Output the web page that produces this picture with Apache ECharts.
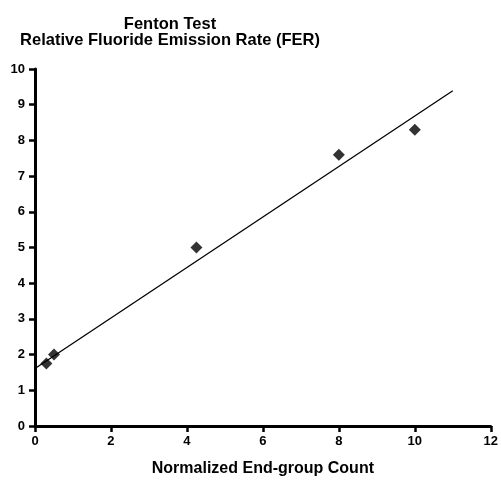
<!DOCTYPE html>
<html><head><meta charset="utf-8">
<script src="https://cdn.jsdelivr.net/npm/echarts@6/dist/echarts.min.js"></script>
<style>html,body{margin:0;padding:0;background:#fff}#c{width:501px;height:482px}</style>
</head><body><div id="c"></div>
<script>
var xValues = [0.3, 0.5, 4.25, 8, 10];
var yValues = [1.75, 2.0, 5.0, 7.6, 8.3];
var fitX = [0, 11];
var fitY = [1.61, 9.39];
var xTicks = [0, 2, 4, 6, 8, 10, 12];
var yTicks = [0, 1, 2, 3, 4, 5, 6, 7, 8, 9, 10];

var chart = echarts.init(document.getElementById('c'));
var font = 'Liberation Sans, Arial, sans-serif';
chart.setOption({
  animation: false,
  backgroundColor: '#fff',
  graphic: [
    {type: 'text', x: 170, y: 24, style: {text: 'Fenton Test', align: 'center', verticalAlign: 'middle', fontFamily: font, fontWeight: 'bold', fontSize: 16.5, fill: '#000'}},
    {type: 'text', x: 170, y: 40.5, style: {text: 'Relative Fluoride Emission Rate (FER)', align: 'center', verticalAlign: 'middle', fontFamily: font, fontWeight: 'bold', fontSize: 16.5, fill: '#000'}}
  ],
  grid: {left: 35, right: 9, top: 69, bottom: 52, containLabel: false},
  xAxis: {
    type: 'value', min: xTicks[0], max: xTicks[xTicks.length - 1], interval: 2,
    name: 'Normalized End-group Count', nameLocation: 'middle', nameGap: 35,
    nameTextStyle: {fontFamily: font, fontWeight: 'bold', fontSize: 16, color: '#000'},
    axisLine: {onZero: false, lineStyle: {color: '#000', width: 3}},
    axisTick: {show: true, length: 6, lineStyle: {color: '#000', width: 2.5}},
    axisLabel: {fontFamily: font, fontWeight: 'bold', fontSize: 13, color: '#000', margin: 9},
    splitLine: {show: false}
  },
  yAxis: {
    type: 'value', min: yTicks[0], max: yTicks[yTicks.length - 1], interval: 1,
    axisLine: {show: true, onZero: false, lineStyle: {color: '#000', width: 3}},
    axisTick: {show: true, length: 6, lineStyle: {color: '#000', width: 2.5}},
    axisLabel: {fontFamily: font, fontWeight: 'bold', fontSize: 13, color: '#000', margin: 10},
    splitLine: {show: false}
  },
  series: [
    {
      type: 'line', data: fitX.map(function (x, i) { return [x, fitY[i]]; }),
      symbol: 'none', lineStyle: {color: '#000', width: 1.3}, z: 2
    },
    {
      type: 'scatter', data: xValues.map(function (x, i) { return [x, yValues[i]]; }),
      symbol: 'diamond', symbolSize: [12, 12], itemStyle: {color: '#000'}, z: 3
    }
  ]
});
</script></body></html>
